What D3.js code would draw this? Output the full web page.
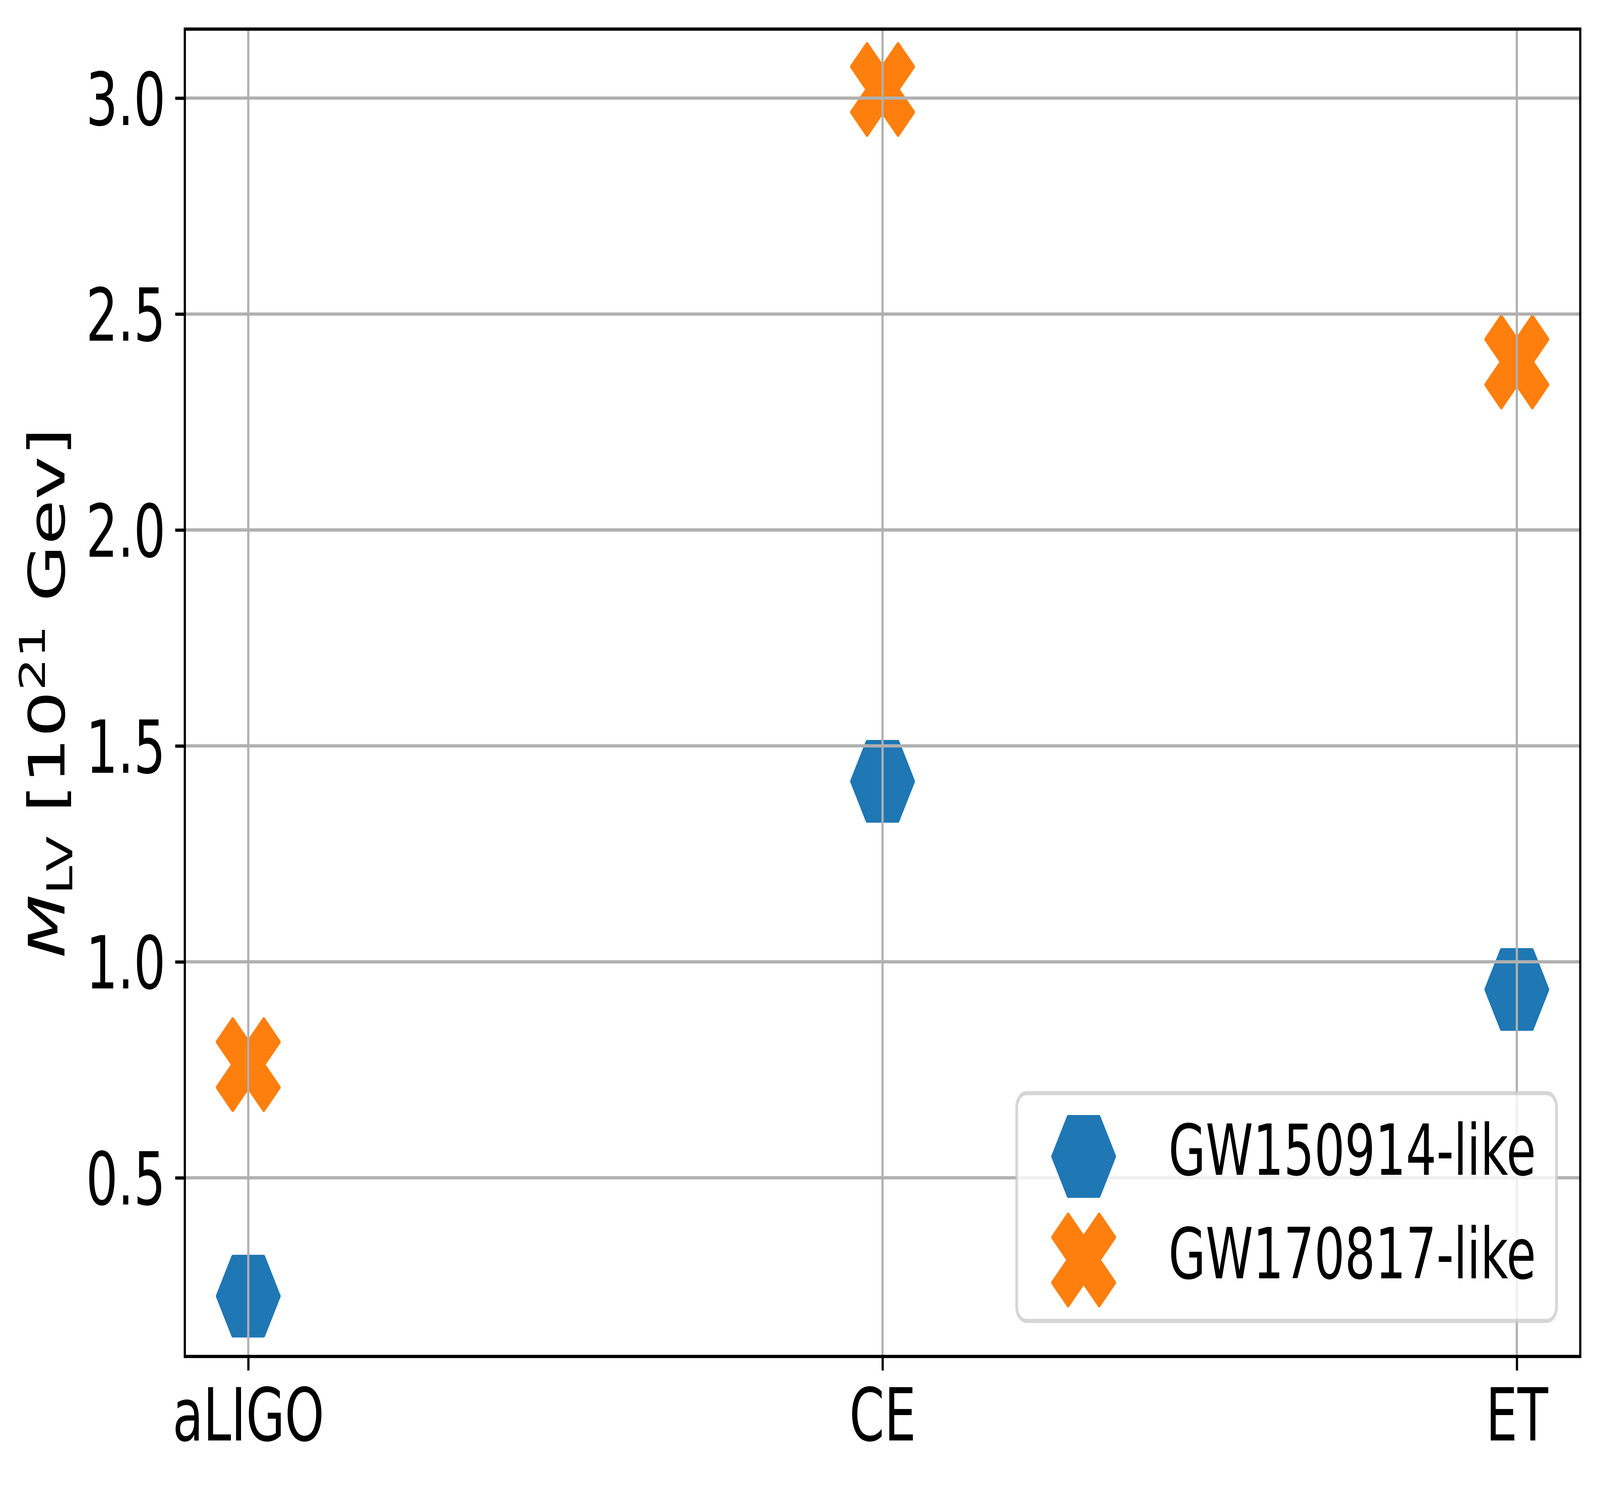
<!DOCTYPE html>
<html>
<head>
<meta charset="utf-8">
<script src="https://cdnjs.cloudflare.com/ajax/libs/d3/7.8.5/d3.min.js"></script>
<style>
  html, body { margin: 0; padding: 0; background: #fff; overflow: hidden; width: 100%; height: 100%; }
  svg { display: block; width: 100vw; height: 100vh; }
  text { font-family: "DejaVu Sans", sans-serif; }
</style>
</head>
<body>
<svg id="chart"></svg>
<script>
var detectors = ['aLIGO', 'CE', 'ET'];
var gw150914 = [0.226, 1.418, 0.936];
var gw170817 = [0.762, 3.02, 2.389];
var yTicks = [0.5, 1.0, 1.5, 2.0, 2.5, 3.0];
var seriesNames = ['GW150914-like', 'GW170817-like'];

var W = 5999, H = 3801;
var plotL = 693, plotR = 5925, plotT = 74.5, plotB = 3472;
var pt = 10.35;
var blue = '#1f77b4', orange = '#ff7f0e';

// the window may come out smaller than asked, so the drawing is stretched to fill it
var svg = d3.select('#chart')
  .attr('viewBox', '0 0 ' + W + ' ' + H)
  .attr('preserveAspectRatio', 'none');
svg.append('rect').attr('width', W).attr('height', H).attr('fill', '#fff');

var x = d3.scalePoint().domain(detectors).range([plotL, plotR]).padding(0.1);
var y = d3.scaleLinear().domain([0.0863, 3.1597]).range([plotB, plotT]);

function hexPath(r) {
  var pts = d3.range(6).map(function (i) {
    var a = Math.PI / 3 * i;
    return [r * Math.cos(a), r * Math.sin(a)];
  });
  return 'M' + pts.join('L') + 'Z';
}

function xPath(ms) {
  var base = [[-1, -3], [1, -3], [1, -1], [3, -1], [3, 1], [1, 1],
              [1, 3], [-1, 3], [-1, 1], [-3, 1], [-3, -1], [-1, -1]];
  var c = Math.SQRT1_2;
  var pts = base.map(function (p) {
    var px = p[0] * ms / 6, py = p[1] * ms / 6;
    return [px * c - py * c, px * c + py * c];
  });
  return 'M' + pts.join('L') + 'Z';
}

var hex = hexPath(116.3);
var cross = xPath(246.7);

function drawMarkers(vals, path, color) {
  svg.append('g').selectAll('path')
    .data(vals)
    .enter().append('path')
    .attr('d', path)
    .attr('transform', function (d, i) { return 'translate(' + x(detectors[i]) + ',' + y(d) + ')'; })
    .attr('fill', color)
    .attr('stroke', color)
    .attr('stroke-width', pt)
    .attr('stroke-linejoin', 'round');
}

drawMarkers(gw150914, hex, blue);
drawMarkers(gw170817, cross, orange);

// grid drawn over the markers, like the original
var grid = svg.append('g').attr('stroke', '#b0b0b0').attr('stroke-width', 0.8 * pt);
grid.selectAll('.gx').data(detectors).enter().append('line')
  .attr('x1', function (d) { return x(d); }).attr('x2', function (d) { return x(d); })
  .attr('y1', plotT).attr('y2', plotB);
grid.selectAll('.gy').data(yTicks).enter().append('line')
  .attr('x1', plotL).attr('x2', plotR)
  .attr('y1', function (d) { return y(d); }).attr('y2', function (d) { return y(d); });

// axes
var xAxis = svg.append('g')
  .attr('transform', 'translate(0,' + plotB + ')')
  .call(d3.axisBottom(x).tickSize(36).tickPadding(0).tickSizeOuter(0));
var yAxis = svg.append('g')
  .attr('transform', 'translate(' + plotL + ',0)')
  .call(d3.axisLeft(y).tickValues(yTicks).tickFormat(d3.format('.1f')).tickSize(36).tickSizeOuter(0));

[xAxis, yAxis].forEach(function (g) {
  g.select('.domain').remove();
  g.selectAll('.tick line').attr('stroke', '#000').attr('stroke-width', 0.8 * pt);
  g.selectAll('.tick text').attr('fill', '#000').attr('font-size', 188)
    .attr('font-family', '"DejaVu Sans", sans-serif');
});
xAxis.selectAll('.tick text').attr('y', 215).attr('dy', null);
yAxis.selectAll('.tick text').attr('x', -72).attr('dy', null).attr('y', 68);

svg.append('rect')
  .attr('x', plotL).attr('y', plotT)
  .attr('width', plotR - plotL).attr('height', plotB - plotT)
  .attr('fill', 'none').attr('stroke', '#000').attr('stroke-width', 0.8 * pt)
  .attr('stroke-linecap', 'square');

// y label
var ylab = svg.append('text')
  .attr('transform', 'translate(241,1773) rotate(-90)')
  .attr('text-anchor', 'middle')
  .attr('font-size', 188)
  .attr('fill', '#000');
ylab.append('tspan').attr('font-style', 'italic').text('M');
ylab.append('tspan').attr('font-size', 132).attr('dy', 30).text('LV');
ylab.append('tspan').attr('dy', -30).text('\u00a0[10');
ylab.append('tspan').attr('font-size', 132).attr('dy', -72).text('21');
ylab.append('tspan').attr('dy', 72).text('\u00a0Gev]');

// legend
var legend = svg.append('g');
legend.append('rect')
  .attr('x', 3812).attr('y', 2798).attr('width', 2024).attr('height', 583)
  .attr('rx', 36).attr('ry', 36)
  .attr('fill', '#fff').attr('fill-opacity', 0.8)
  .attr('stroke', '#cccccc').attr('stroke-opacity', 0.8).attr('stroke-width', pt);

var legendRows = legend.selectAll('.row')
  .data(seriesNames)
  .enter().append('g')
  .attr('transform', function (d, i) { return 'translate(4063,' + (2960 + i * 265) + ')'; });

legendRows.append('path')
  .attr('d', function (d, i) { return i === 0 ? hex : cross; })
  .attr('fill', function (d, i) { return i === 0 ? blue : orange; })
  .attr('stroke', function (d, i) { return i === 0 ? blue : orange; })
  .attr('stroke-width', pt)
  .attr('stroke-linejoin', 'round');

legendRows.append('text')
  .attr('x', 318).attr('y', 47)
  .attr('font-size', 180)
  .attr('fill', '#000')
  .text(function (d) { return d; });
</script>
</body>
</html>
